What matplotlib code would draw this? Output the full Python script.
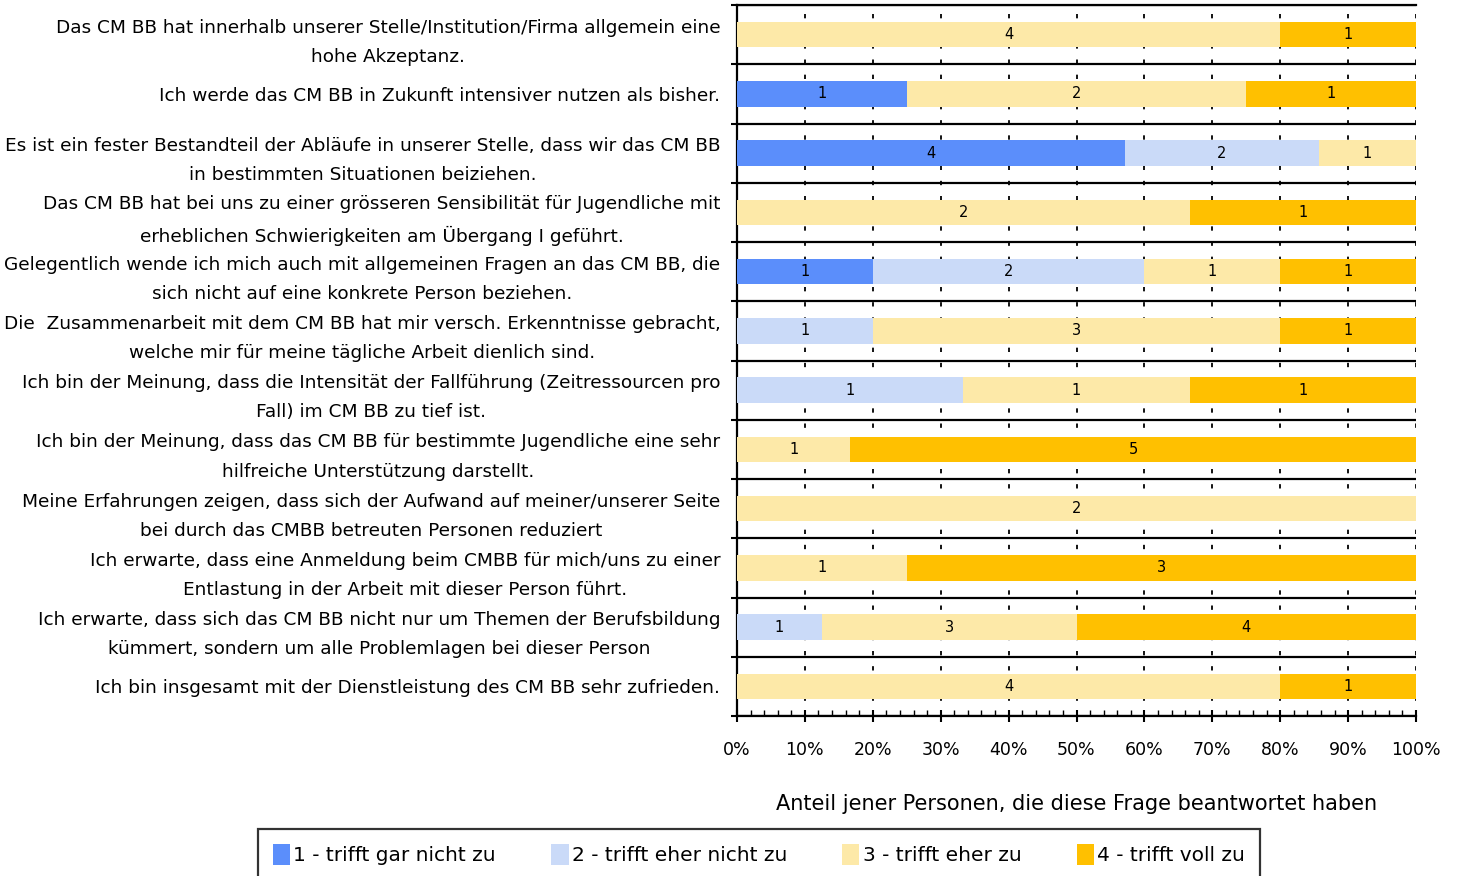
import matplotlib.pyplot as plt
import numpy as np

# fragen (von oben nach unten)
questions = [
    "Das CM BB hat innerhalb unserer Stelle/Institution/Firma allgemein eine\nhohe Akzeptanz.",
    "Ich werde das CM BB in Zukunft intensiver nutzen als bisher.",
    "Es ist ein fester Bestandteil der Abläufe in unserer Stelle, dass wir das CM BB\nin bestimmten Situationen beiziehen.",
    "Das CM BB hat bei uns zu einer grösseren Sensibilität für Jugendliche mit\nerheblichen Schwierigkeiten am Übergang I geführt.",
    "Gelegentlich wende ich mich auch mit allgemeinen Fragen an das CM BB, die\nsich nicht auf eine konkrete Person beziehen.",
    "Die  Zusammenarbeit mit dem CM BB hat mir versch. Erkenntnisse gebracht,\nwelche mir für meine tägliche Arbeit dienlich sind.",
    "Ich bin der Meinung, dass die Intensität der Fallführung (Zeitressourcen pro\nFall) im CM BB zu tief ist.",
    "Ich bin der Meinung, dass das CM BB für bestimmte Jugendliche eine sehr\nhilfreiche Unterstützung darstellt.",
    "Meine Erfahrungen zeigen, dass sich der Aufwand auf meiner/unserer Seite\nbei durch das CMBB betreuten Personen reduziert",
    "Ich erwarte, dass eine Anmeldung beim CMBB für mich/uns zu einer\nEntlastung in der Arbeit mit dieser Person führt.",
    "Ich erwarte, dass sich das CM BB nicht nur um Themen der Berufsbildung\nkümmert, sondern um alle Problemlagen bei dieser Person",
    "Ich bin insgesamt mit der Dienstleistung des CM BB sehr zufrieden.",
]

# anzahl antworten je kategorie
gar_nicht = [0, 1, 4, 0, 1, 0, 0, 0, 0, 0, 0, 0]
eher_nicht = [0, 0, 2, 0, 2, 1, 1, 0, 0, 0, 1, 0]
eher = [4, 2, 1, 2, 1, 3, 1, 1, 2, 1, 3, 4]
voll = [1, 1, 0, 1, 1, 1, 1, 5, 0, 3, 4, 1]

labels = ["1 - trifft gar nicht zu", "2 - trifft eher nicht zu",
          "3 - trifft eher zu", "4 - trifft voll zu"]
colors = ["#5B8EFB", "#CADAF8", "#FDE9A8", "#FFC000"]

counts = np.array([gar_nicht, eher_nicht, eher, voll], dtype=float)
totals = counts.sum(axis=0)
shares = counts / totals * 100

fig = plt.figure(figsize=(14.57, 8.76), dpi=100)
ax = fig.add_axes([737 / 1457, 1 - 716 / 876, 679 / 1457, 711 / 876])

y = np.arange(len(questions)) + 0.5
left = np.zeros(len(questions))
for k in range(4):
    bars = ax.barh(y, shares[k], left=left, height=0.43, color=colors[k],
                   label=labels[k], zorder=3)
    for i, b in enumerate(bars):
        if counts[k, i] > 0:
            ax.text(left[i] + shares[k, i] / 2, y[i], str(int(counts[k, i])),
                    ha="center", va="center", fontsize=10.5, zorder=4)
    left += shares[k]

ax.set_xlim(0, 100)
ax.set_ylim(len(questions), 0)

# y: trennlinien an grenzen, beschriftung in der mitte
ax.set_yticks(np.arange(len(questions) + 1))
ax.set_yticklabels([])
ax.set_yticks(y, minor=True)
ax.set_yticklabels(questions, minor=True, fontsize=13.3, multialignment="center",
                   linespacing=1.8)
ax.tick_params(axis="y", which="minor", length=0, pad=12)
ax.tick_params(axis="y", which="major", length=4, width=1.5, direction="out")
ax.grid(axis="y", which="major", color="black", linestyle="-", linewidth=1.6, zorder=1)

# x
ax.set_xticks(np.arange(0, 101, 10))
ax.set_xticklabels([f"{v}%" for v in range(0, 101, 10)], fontsize=12.5)
ax.set_xticks(np.arange(0, 101, 2), minor=True)
ax.tick_params(axis="x", which="major", direction="inout", length=8, width=1.5, pad=14)
ax.tick_params(axis="x", which="minor", direction="in", length=4, width=1)
ax.grid(axis="x", which="major", color="black", linestyle=(0, (2.4, 6)),
        linewidth=1.3, zorder=2)
ax.set_xlabel("Anteil jener Personen, die diese Frage beantwortet haben",
              fontsize=15, labelpad=25)

for s in ["left", "bottom", "top"]:
    ax.spines[s].set_linewidth(1.6)
ax.spines["right"].set_visible(False)
ax.set_axisbelow(False)

leg = fig.legend(loc="upper center", bbox_to_anchor=(759 / 1457, 1 - 829 / 876),
                 ncol=4, fontsize=14.5, frameon=True, fancybox=False,
                 edgecolor="black", handlelength=0.85, handleheight=1.2,
                 handletextpad=0.15, columnspacing=2.75, borderpad=0.75,
                 borderaxespad=0)
leg.get_frame().set_linewidth(1.6)

fig.savefig("out.png", dpi=100)
